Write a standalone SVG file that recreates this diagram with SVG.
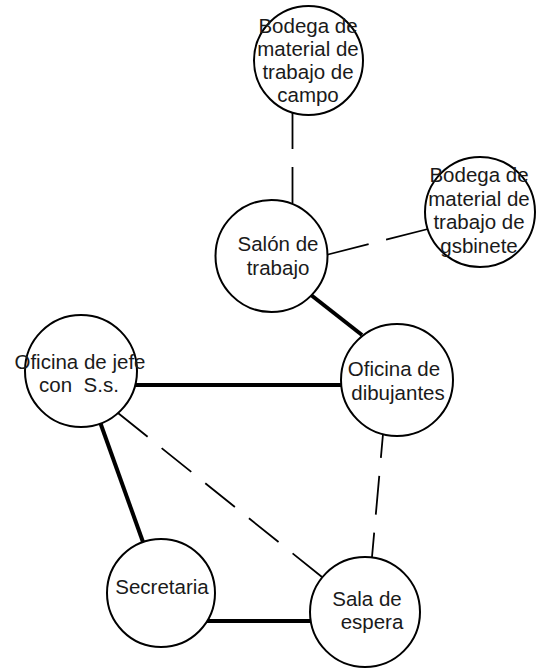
<svg xmlns="http://www.w3.org/2000/svg" width="538" height="669" viewBox="0 0 538 669">
  <style>
    .room { fill: #ffffff; stroke: #000000; stroke-width: 2; }
    .label { font-family: "Liberation Sans", Arial, sans-serif; font-size: 20.5px; fill: #1a1a1a; text-anchor: middle; }
    .solid { stroke: #000000; stroke-width: 4; fill: none; }
    .dash { stroke: #000000; stroke-width: 1.8; fill: none; }
  </style>
  <rect width="538" height="669" fill="#ffffff"/>

  <!-- links between rooms -->
  <g id="connectors">
    <line class="dash" x1="292.5" y1="113" x2="292.5" y2="204" stroke-dasharray="36 18"/>
    <line class="dash" x1="326" y1="255" x2="428" y2="229" stroke-dasharray="44 18"/>
    <line class="solid" x1="311" y1="295" x2="362" y2="335"/>
    <line class="solid" x1="135" y1="385" x2="342" y2="385"/>
    <line class="dash" x1="118" y1="413" x2="322" y2="577" stroke-dasharray="38 18"/>
    <line class="dash" x1="383" y1="434" x2="372" y2="557" stroke-dasharray="39 18" stroke-dashoffset="15"/>
    <line class="solid" x1="100" y1="422" x2="143" y2="542"/>
    <line class="solid" x1="207" y1="621" x2="311" y2="621"/>
  </g>

  <g id="bodega-campo">
    <circle class="room" cx="308.5" cy="60.5" r="54.5"/>
    <text class="label" x="308" y="33">Bodega de</text>
    <text class="label" x="308" y="56">material de</text>
    <text class="label" x="308" y="79">trabajo de</text>
    <text class="label" x="308" y="102">campo</text>
  </g>

  <g id="bodega-gabinete">
    <circle class="room" cx="480" cy="212" r="55"/>
    <text class="label" x="479" y="182">Bodega de</text>
    <text class="label" x="479" y="205.5">material de</text>
    <text class="label" x="479" y="229">trabajo de</text>
    <text class="label" x="479" y="252.5">gsbinete</text>
  </g>

  <g id="salon-trabajo">
    <circle class="room" cx="271.5" cy="256" r="56"/>
    <text class="label" x="278" y="251">Salón de</text>
    <text class="label" x="278" y="275">trabajo</text>
  </g>

  <g id="oficina-jefe">
    <circle class="room" cx="81" cy="371" r="56"/>
    <text class="label" x="80" y="369">Oficina de jefe</text>
    <text class="label" x="79" y="392" xml:space="preserve">con  S.s.</text>
  </g>

  <g id="oficina-dibujantes">
    <circle class="room" cx="397" cy="380" r="56"/>
    <text class="label" x="394" y="376">Oficina de</text>
    <text class="label" x="398" y="400">dibujantes</text>
  </g>

  <g id="secretaria">
    <circle class="room" cx="161" cy="593" r="54"/>
    <text class="label" x="162" y="594">Secretaria</text>
  </g>

  <g id="sala-espera">
    <circle class="room" cx="365" cy="612" r="55"/>
    <text class="label" x="367" y="606">Sala de</text>
    <text class="label" x="372" y="629">espera</text>
  </g>
</svg>
